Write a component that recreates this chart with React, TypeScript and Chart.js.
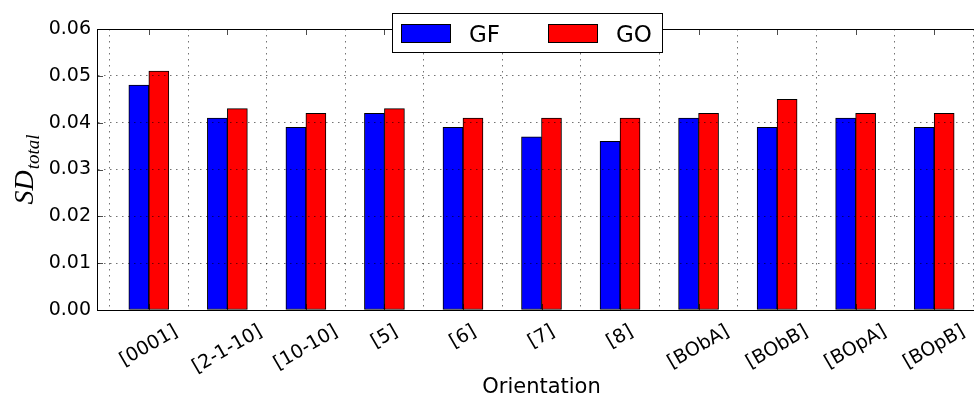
import React, { useEffect, useRef } from "react";
import { Chart, registerables } from "chart.js";

Chart.register(...registerables);

const categories = ["[0001]", "[2-1-10]", "[10-10]", "[5]", "[6]", "[7]", "[8]", "[BObA]", "[BObB]", "[BOpA]", "[BOpB]"];
const gfValues = [0.048, 0.041, 0.039, 0.042, 0.039, 0.037, 0.036, 0.041, 0.039, 0.041, 0.039];
const goValues = [0.051, 0.043, 0.042, 0.043, 0.041, 0.041, 0.041, 0.042, 0.045, 0.042, 0.042];
const yTicks = [0, 0.01, 0.02, 0.03, 0.04, 0.05, 0.06];
const seriesNames = ["GF", "GO"];
const seriesColors = ["#0000ff", "#ff0000"];
const xTitle = "Orientation";
const yTitleMain = "SD";
const yTitleSub = "total";

const CW = 990;
const CH = 398;

const decor = {
  id: "decor",
  afterDraw(chart: any) {
    const { ctx, chartArea: a, scales } = chart;
    const xs = scales.x;
    const ys = scales.y;
    const line = (x1: number, y1: number, x2: number, y2: number) => {
      ctx.beginPath();
      ctx.moveTo(x1, y1);
      ctx.lineTo(x2, y2);
      ctx.stroke();
    };
    ctx.save();
    // top spine
    ctx.strokeStyle = "#000";
    ctx.lineWidth = 1;
    line(a.left, a.top + 0.5, a.right, a.top + 0.5);
    // inward ticks
    ctx.strokeStyle = "rgba(0,0,0,0.7)";
    categories.forEach((_, i) => {
      const px = Math.round(xs.getPixelForValue(i)) + 0.5;
      line(px, a.top, px, a.top + 6);
      line(px, a.bottom, px, a.bottom - 6);
    });
    yTicks.forEach((v) => {
      const py = Math.round(ys.getPixelForValue(v)) + 0.5;
      line(a.left, py, a.left + 6, py);
    });
    // x tick labels (rotated 30°, centred on tick)
    ctx.fillStyle = "#000";
    ctx.font = "19px 'DejaVu Sans'";
    ctx.textAlign = "center";
    ctx.textBaseline = "middle";
    categories.forEach((lab, i) => {
      const w = ctx.measureText(lab).width;
      const cx = xs.getPixelForValue(i);
      const cy = a.bottom + 13 + w / 4 + 0.433 * 17;
      ctx.save();
      ctx.translate(cx, cy);
      ctx.rotate(-Math.PI / 6);
      ctx.fillText(lab, 0, 0);
      ctx.restore();
    });
    // x title
    ctx.font = "21px 'DejaVu Sans'";
    ctx.textBaseline = "middle";
    ctx.fillText(xTitle, (a.left + a.right) / 2, 388);
    // y title
    const mainFont = "italic 28px 'Liberation Serif'";
    const subFont = "italic 19px 'Liberation Serif'";
    ctx.font = mainFont;
    const wMain = ctx.measureText(yTitleMain).width;
    ctx.font = subFont;
    const wSub = ctx.measureText(yTitleSub).width;
    const total = wMain + 1 + wSub;
    const centerY = (a.top + a.bottom) / 2;
    ctx.save();
    ctx.translate(33, centerY + total / 2);
    ctx.rotate(-Math.PI / 2);
    ctx.textAlign = "left";
    ctx.textBaseline = "alphabetic";
    ctx.font = mainFont;
    ctx.fillText(yTitleMain, 0, 0);
    ctx.font = subFont;
    ctx.fillText(yTitleSub, wMain + 1, 6);
    ctx.restore();
    // legend
    ctx.fillStyle = "#fff";
    ctx.fillRect(392, 13, 270, 39);
    ctx.strokeStyle = "#000";
    ctx.lineWidth = 1;
    ctx.strokeRect(392.5, 13.5, 270, 39);
    const swX = [401, 548];
    const txX = [469, 616];
    ctx.font = "23px 'DejaVu Sans'";
    ctx.textAlign = "left";
    ctx.textBaseline = "alphabetic";
    seriesNames.forEach((n, i) => {
      ctx.fillStyle = seriesColors[i];
      ctx.fillRect(swX[i], 24, 49, 18);
      ctx.strokeStyle = "#000";
      ctx.strokeRect(swX[i] + 0.5, 24.5, 49, 18);
      ctx.fillStyle = "#000";
      ctx.fillText(n, txX[i], 42);
    });
    ctx.restore();
  },
};

export default function App() {
  const ref = useRef<HTMLCanvasElement | null>(null);
  useEffect(() => {
    if (!ref.current) return;
    const gridStyle = { color: "rgba(0,0,0,0.55)", lineWidth: 1, drawTicks: false, z: 1 };
    const borderStyle = { display: true, color: "#000", width: 1, dash: [1.5, 4.5], z: 1 };
    const chart = new Chart(ref.current, {
      type: "bar",
      data: {
        datasets: [gfValues, goValues].map((vals, k) => ({
          label: seriesNames[k],
          data: vals.map((v, i) => ({ x: i, y: v })),
          backgroundColor: seriesColors[k],
          borderColor: "#000",
          borderWidth: 1,
          borderSkipped: false,
          barThickness: 20,
        })),
      },
      options: {
        responsive: false,
        animation: false,
        devicePixelRatio: 1,
        layout: { padding: { top: 29, right: 4, left: 0, bottom: 0 } },
        plugins: { legend: { display: false }, tooltip: { enabled: false }, title: { display: false } },
        scales: {
          x: {
            type: "linear",
            min: -0.66,
            max: 10.66,
            offset: false,
            afterBuildTicks: (s: any) => {
              s.ticks = categories.map((_, i) => ({ value: i }));
            },
            afterFit: (s: any) => {
              s.height = 88;
            },
            ticks: { display: false },
            grid: gridStyle,
            border: borderStyle,
          },
          y: {
            min: 0,
            max: 0.06,
            afterBuildTicks: (s: any) => {
              s.ticks = yTicks.map((v) => ({ value: v }));
            },
            afterFit: (s: any) => {
              s.width = 97;
            },
            ticks: {
              font: { family: "'DejaVu Sans'", size: 19 },
              color: "#000",
              padding: 6,
              callback: (v: any) => Number(v).toFixed(2),
            },
            grid: gridStyle,
            border: borderStyle,
          },
        },
      } as any,
      plugins: [decor],
    });
    return () => chart.destroy();
  }, []);
  return (
    <div style={{ position: "fixed", left: 0, top: 0, width: 974, height: 398, overflow: "hidden", background: "#fff" }}>
      <canvas ref={ref} width={CW} height={CH} style={{ width: CW, height: CH, display: "block" }} />
    </div>
  );
}
